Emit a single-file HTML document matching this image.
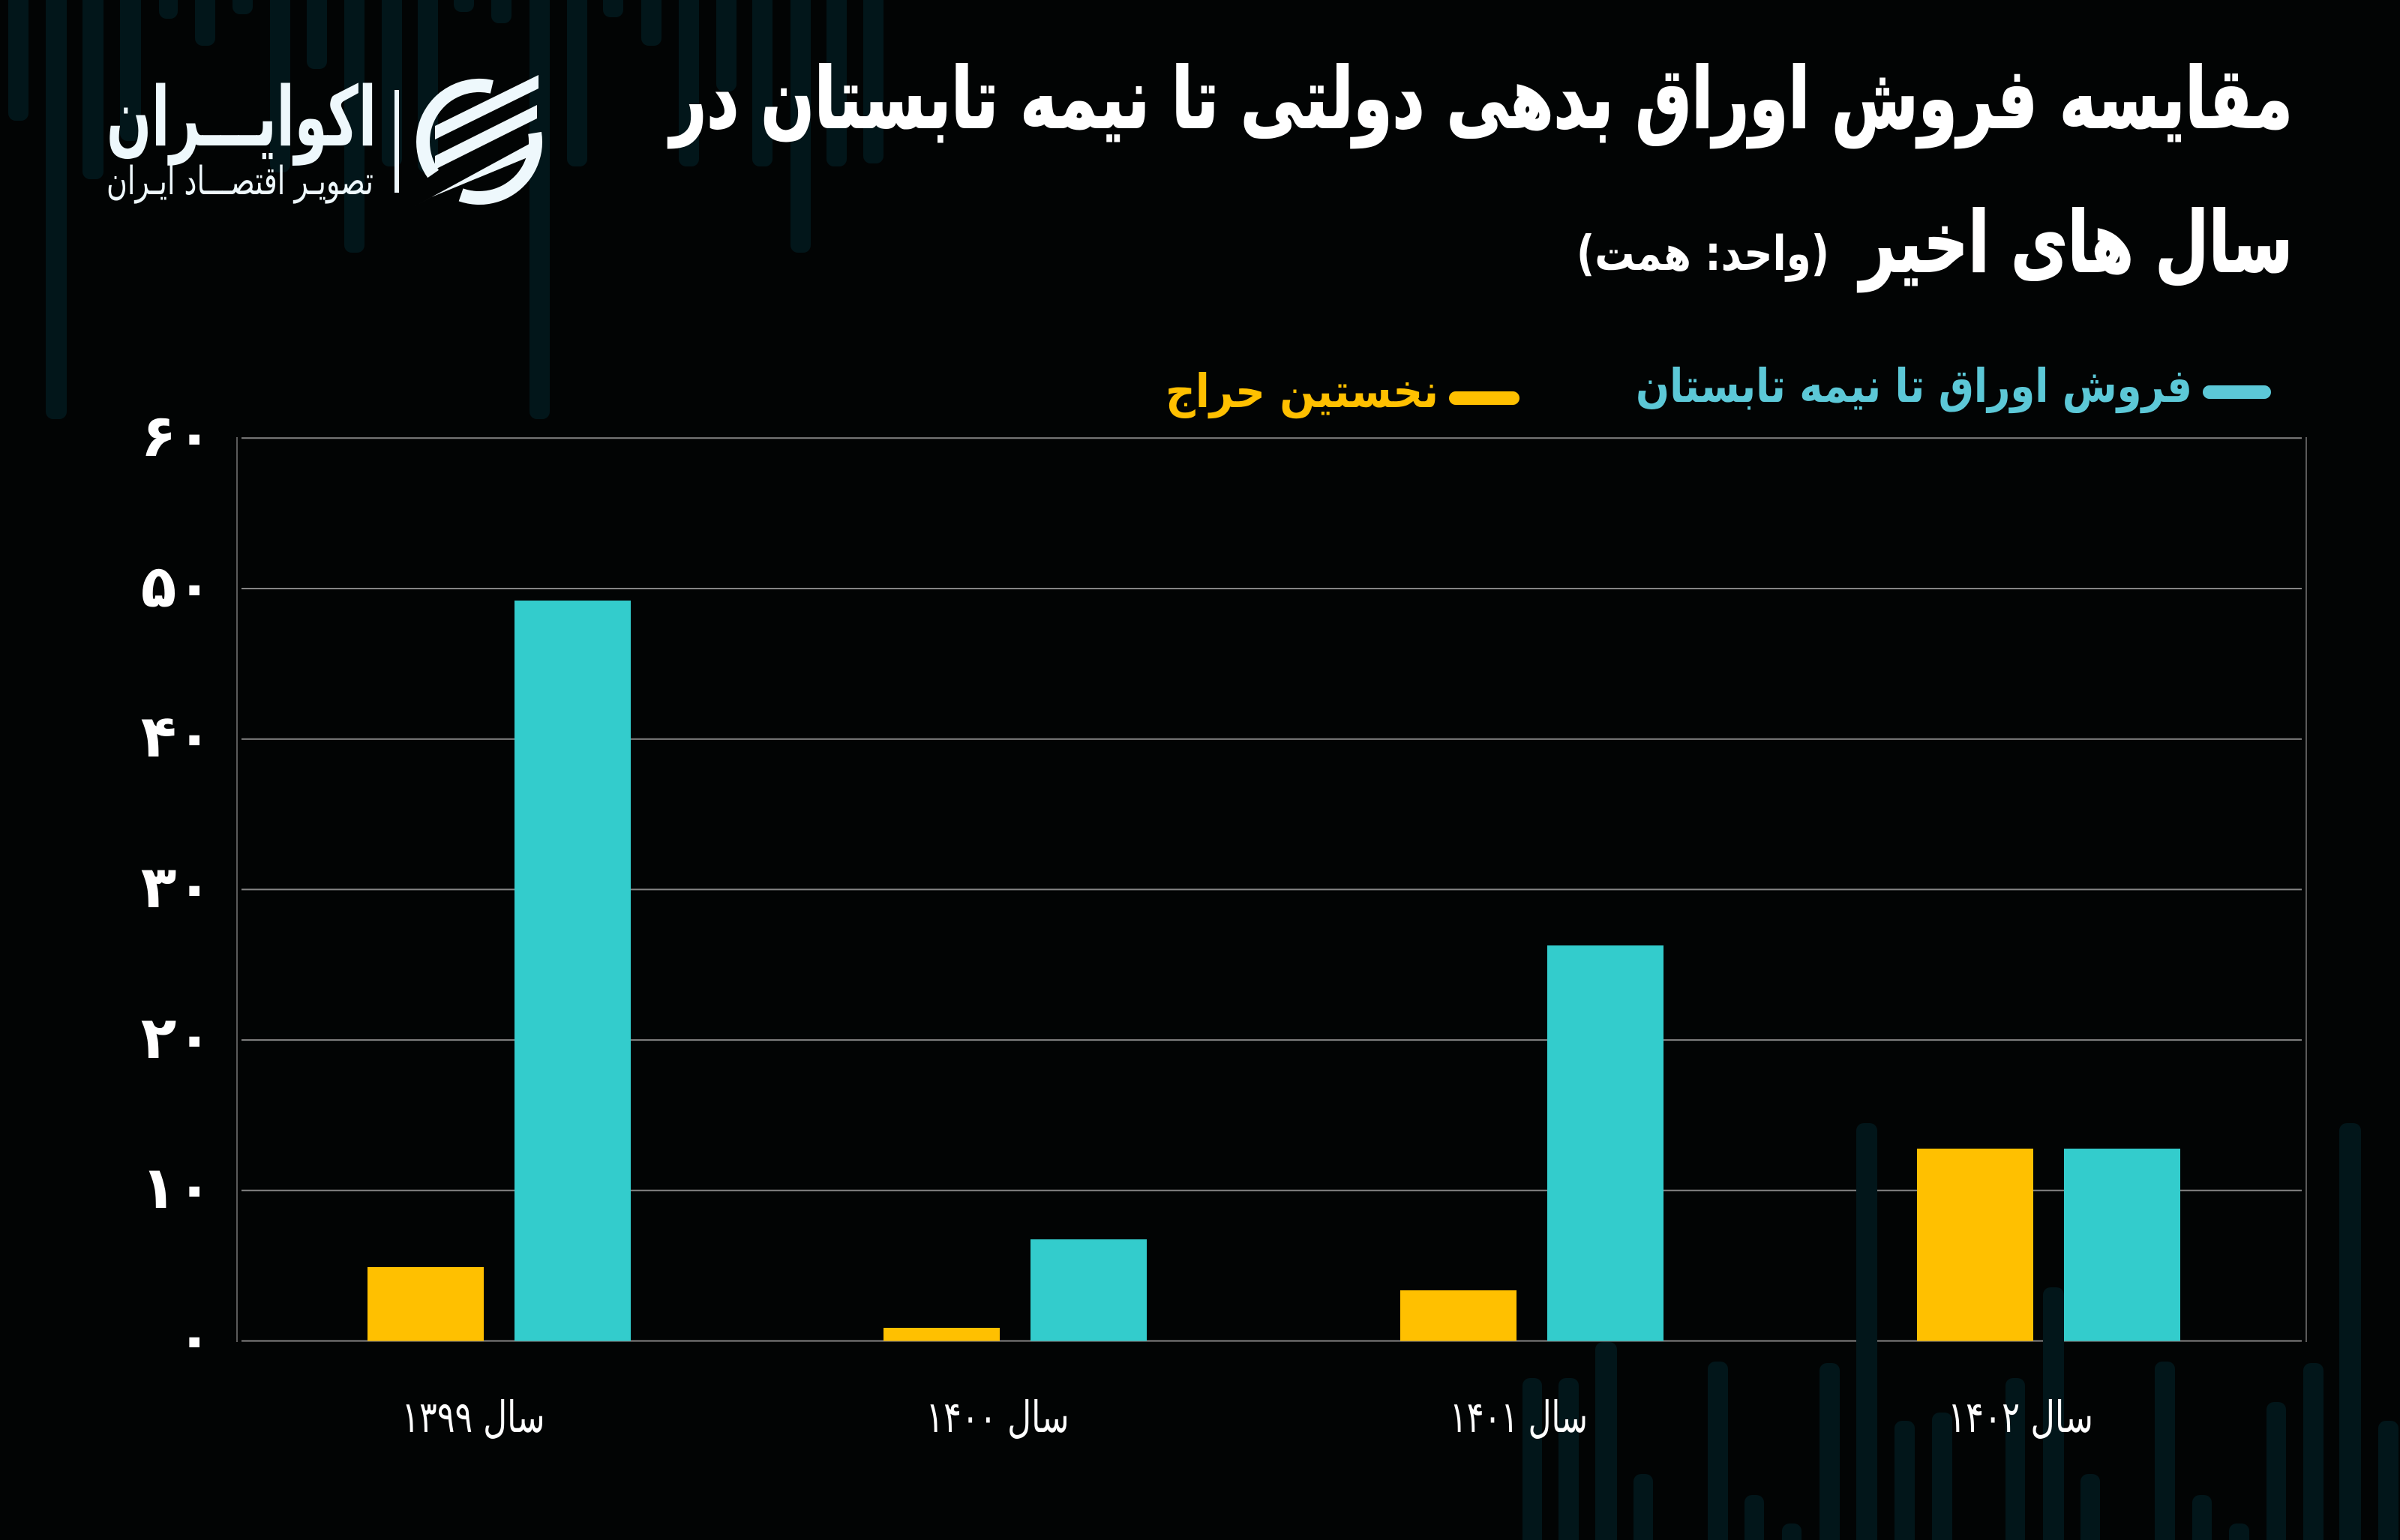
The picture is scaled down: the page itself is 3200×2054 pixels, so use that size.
<!DOCTYPE html>
<html><head><meta charset="utf-8">
<style>
html,body{margin:0;padding:0;background:#020404;width:3200px;height:2054px;overflow:hidden;}
svg{display:block;}
text{font-family:"DejaVu Sans","Liberation Sans",sans-serif;}
</style></head>
<body>
<svg width="3200" height="2054" viewBox="0 0 3200 2054" xmlns="http://www.w3.org/2000/svg">
<defs><clipPath id="c"><rect x="0" y="0" width="3200" height="2054"/></clipPath></defs>
<g clip-path="url(#c)">
<rect x="0" y="0" width="3200" height="2054" fill="#020404"/>
<!-- top-left decorative stripes -->
<g fill="#02161a">
<rect x="11" y="-30" width="27" height="191" rx="10"/>
<rect x="61" y="-30" width="28" height="589" rx="10"/>
<rect x="110" y="-30" width="28" height="269" rx="10"/>
<rect x="160" y="-30" width="28" height="218" rx="10"/>
<rect x="212" y="-30" width="25" height="55" rx="10"/>
<rect x="260" y="-30" width="27" height="91" rx="10"/>
<rect x="310" y="-30" width="27" height="49" rx="10"/>
<rect x="360" y="-30" width="27" height="260" rx="10"/>
<rect x="409" y="-30" width="27" height="122" rx="10"/>
<rect x="459" y="-30" width="27" height="367" rx="10"/>
<rect x="509" y="-30" width="27" height="252" rx="10"/>
<rect x="557" y="-30" width="27" height="260" rx="10"/>
<rect x="605" y="-30" width="27" height="46" rx="10"/>
<rect x="655" y="-30" width="27" height="61" rx="10"/>
<rect x="706" y="-30" width="27" height="589" rx="10"/>
<rect x="756" y="-30" width="27" height="252" rx="10"/>
<rect x="804" y="-30" width="27" height="53" rx="10"/>
<rect x="855" y="-30" width="27" height="91" rx="10"/>
<rect x="905" y="-30" width="27" height="252" rx="10"/>
<rect x="955" y="-30" width="27" height="152" rx="10"/>
<rect x="1003" y="-30" width="27" height="252" rx="10"/>
<rect x="1054" y="-30" width="27" height="367" rx="10"/>
<rect x="1102" y="-30" width="27" height="252" rx="10"/>
<rect x="1151" y="-30" width="27" height="248" rx="10"/>
</g>

<!-- gridlines -->
<g stroke="#858585" stroke-width="2">
<line x1="322" y1="584.3" x2="3069" y2="584.3"/>
<line x1="322" y1="785" x2="3069" y2="785"/>
<line x1="322" y1="985.7" x2="3069" y2="985.7"/>
<line x1="322" y1="1186.4" x2="3069" y2="1186.4"/>
<line x1="322" y1="1387.1" x2="3069" y2="1387.1"/>
<line x1="322" y1="1587.8" x2="3069" y2="1587.8"/>
<line x1="322" y1="1788.5" x2="3069" y2="1788.5"/>
</g>
<g stroke="#5a5a5a" stroke-width="2">
<line x1="316" y1="583" x2="316" y2="1790"/>
<line x1="3075" y1="583" x2="3075" y2="1790"/>
</g>

<!-- bottom-right decorative stripes -->
<g fill="#02161a">
<rect x="2030" y="1838" width="26" height="230" rx="10"/>
<rect x="2078" y="1838" width="27" height="230" rx="10"/>
<rect x="2127" y="1790" width="29" height="280" rx="10"/>
<rect x="2178" y="1966" width="26" height="100" rx="10"/>
<rect x="2277" y="1816" width="27" height="250" rx="10"/>
<rect x="2326" y="1994" width="26" height="80" rx="10"/>
<rect x="2376" y="2032" width="26" height="40" rx="10"/>
<rect x="2426" y="1818" width="27" height="250" rx="10"/>
<rect x="2475" y="1498" width="28" height="570" rx="10"/>
<rect x="2526" y="1895" width="27" height="170" rx="10"/>
<rect x="2576" y="1884" width="27" height="180" rx="10"/>
<rect x="2674" y="1838" width="26" height="230" rx="10"/>
<rect x="2724" y="1717" width="28" height="350" rx="10"/>
<rect x="2774" y="1966" width="26" height="100" rx="10"/>
<rect x="2873" y="1816" width="27" height="250" rx="10"/>
<rect x="2923" y="1994" width="26" height="80" rx="10"/>
<rect x="2972" y="2032" width="27" height="40" rx="10"/>
<rect x="3022" y="1870" width="26" height="200" rx="10"/>
<rect x="3071" y="1818" width="27" height="250" rx="10"/>
<rect x="3119" y="1498" width="29" height="570" rx="10"/>
<rect x="3171" y="1895" width="27" height="170" rx="10"/>
</g>

<!-- bars -->
<g>
<rect x="490" y="1690" width="155" height="98.5" fill="#FFC000"/>
<rect x="686" y="801" width="155" height="987.5" fill="#33CCCC"/>
<rect x="1178" y="1771" width="155" height="17.5" fill="#FFC000"/>
<rect x="1374" y="1653" width="155" height="135.5" fill="#33CCCC"/>
<rect x="1867" y="1721" width="155" height="67.5" fill="#FFC000"/>
<rect x="2063" y="1261" width="155" height="527.5" fill="#33CCCC"/>
<rect x="2556" y="1532" width="155" height="256.5" fill="#FFC000"/>
<rect x="2752" y="1532" width="155" height="256.5" fill="#33CCCC"/>
</g>

<!-- y axis labels -->
<g fill="#ffffff" font-size="78" font-weight="bold" text-anchor="end">
<text x="283" y="608">۶۰</text>
<text x="283" y="809">۵۰</text>
<text x="283" y="1009">۴۰</text>
<text x="283" y="1210">۳۰</text>
<text x="283" y="1411">۲۰</text>
<text x="283" y="1611">۱۰</text>
<text x="283" y="1812">۰</text>
</g>

<!-- x axis labels -->
<g fill="#ffffff" font-size="58" text-anchor="middle">
<text x="631" y="1910" textLength="191" lengthAdjust="spacingAndGlyphs">سال ۱۳۹۹</text>
<text x="1330" y="1910" textLength="191" lengthAdjust="spacingAndGlyphs">سال ۱۴۰۰</text>
<text x="2025" y="1910" textLength="184" lengthAdjust="spacingAndGlyphs">سال ۱۴۰۱</text>
<text x="2694" y="1910" textLength="194" lengthAdjust="spacingAndGlyphs">سال ۱۴۰۲</text>
</g>

<!-- legend -->
<rect x="2937" y="514" width="91" height="18" rx="9" fill="#5cc8d7"/>
<text x="2923" y="536" fill="#5cc8d7" font-size="62" font-weight="bold" text-anchor="end" textLength="742" lengthAdjust="spacingAndGlyphs">فروش اوراق تا نیمه تابستان</text>
<rect x="1932" y="522" width="94" height="18" rx="9" fill="#FFC000"/>
<text x="1918" y="543" fill="#FFC000" font-size="62" font-weight="bold" text-anchor="end" textLength="364" lengthAdjust="spacingAndGlyphs">نخستین حراج</text>

<!-- title -->
<text x="3057" y="170" fill="#ffffff" stroke="#ffffff" stroke-width="2" font-size="112" font-weight="bold" text-anchor="end" textLength="2163" lengthAdjust="spacingAndGlyphs">مقایسه فروش اوراق بدهی دولتی تا نیمه تابستان در</text>
<text x="3057" y="362" fill="#ffffff" stroke="#ffffff" stroke-width="2" font-size="112" font-weight="bold" text-anchor="end" textLength="577" lengthAdjust="spacingAndGlyphs">سال های اخیر</text>
<text x="2439" y="360" fill="#ffffff" font-size="64" font-weight="bold" text-anchor="end" textLength="337" lengthAdjust="spacingAndGlyphs">(واحد: همت)</text>

<!-- logo -->
<g fill="#eef8fc">
<text x="502" y="194" font-size="110" font-weight="bold" text-anchor="end" textLength="360" lengthAdjust="spacingAndGlyphs">اکوایـــران</text>
<text x="498" y="259" font-size="52" text-anchor="end" textLength="356" lengthAdjust="spacingAndGlyphs">تصویـر اقتصـــاد ایـران</text>
<rect x="526" y="120" width="6" height="137"/>
<path d="M 655.9 115.9 A 75 75 0 0 0 577.6 232" fill="none" stroke="#eef8fc" stroke-width="18"/>
<path d="M 713.1 177.3 A 75 75 0 0 1 614.6 259.9" fill="none" stroke="#eef8fc" stroke-width="18"/>
<polygon points="580,168 718,100 718,118 580,186"/>
<polygon points="580,208 716,140 716,158 580,226"/>
<polygon points="553,275 713,188 713,206 575,263"/>
</g>
</g>
</svg>
</body></html>
